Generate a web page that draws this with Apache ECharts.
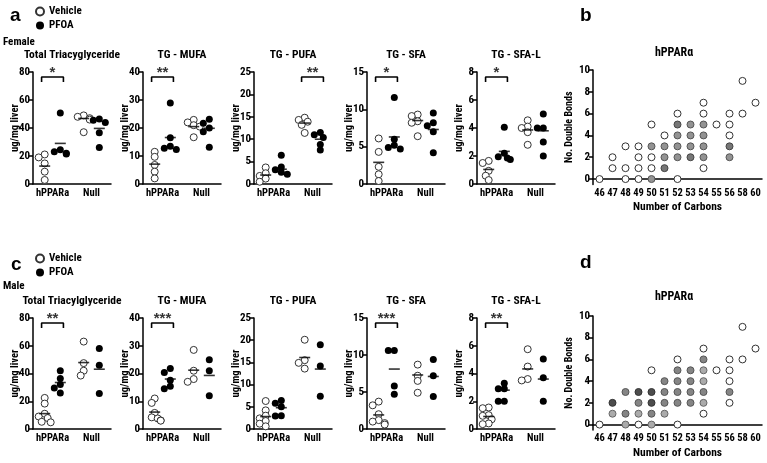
<!DOCTYPE html>
<html><head><meta charset="utf-8">
<script src="https://cdn.jsdelivr.net/npm/echarts@6/dist/echarts.min.js"></script>
<style>html,body{margin:0;padding:0;background:#fff}#c{width:767px;height:463px}</style>
</head><body><div id="c"></div>
<script>
// ---------- categories / ticks ----------
const groups = ['hPPARa', 'Null'];
const femaleTitles = ['Total Triacyglyceride', 'TG - MUFA', 'TG - PUFA', 'TG - SFA', 'TG - SFA-L'];
const maleTitles = ['Total Triacylglyceride', 'TG - MUFA', 'TG - PUFA', 'TG - SFA', 'TG - SFA-L'];
const yMaxes = [80, 40, 25, 15, 8];
const yIntervals = [20, 10, 5, 5, 2];
const carbons = ['46', '47', '48', '49', '50', '51', '52', '53', '54', '55', '56', '58', '60'];
const bondTicks = [0, 2, 4, 6, 8, 10];

// ---------- Female values: [hPPARa, Null] ----------
const fTotalVehicle = [[21.1, 19.0, 14.7, 8.8, 2.9], [49, 48, 47, 46, 37]];
const fTotalPFOA = [[50.8, 24.5, 23, 22, 21.5], [46.5, 45.5, 44, 36.6, 26.1]];
const fTotalVehicleMean = [12.8, 46.8];
const fTotalPFOAMean = [29, 39.7];

const fMufaVehicle = [[11.5, 9.7, 6.8, 4.4, 2.0], [22.9, 22.0, 21.0, 20.5, 16.7]];
const fMufaPFOA = [[28.9, 16.5, 13.5, 12.8, 12.3], [23.1, 21.7, 20.0, 18.7, 13.1]];
const fMufaVehicleMean = [7.1, 20.5];
const fMufaPFOAMean = [16.6, 19.9];

const fPufaVehicle = [[3.7, 2.4, 1.8, 1.2, 0.5], [14.8, 14.3, 13.9, 13.2, 11.4]];
const fPufaPFOA = [[6.4, 3.8, 3.2, 2.6, 2.2], [11.5, 11.0, 10.4, 8.8, 7.6]];
const fPufaVehicleMean = [2.0, 13.6];
const fPufaPFOAMean = [3.3, 10.0];

const fSfaVehicle = [[6.1, 4.3, 2.3, 1.3, 0.4], [9.3, 9.1, 8.4, 8.2, 6.4]];
const fSfaPFOA = [[11.6, 6.0, 5.2, 4.9, 4.7], [9.5, 8.2, 7.8, 7.0, 4.2]];
const fSfaVehicleMean = [2.9, 8.5];
const fSfaPFOAMean = [6.3, 7.3];

const fSfalVehicle = [[1.65, 1.5, 0.94, 0.59, 0.28], [4.55, 4.1, 4.0, 3.7, 2.8]];
const fSfalPFOA = [[4.05, 2.2, 1.95, 1.85, 1.75], [5.0, 4.0, 4.0, 3.0, 2.0]];
const fSfalVehicleMean = [1.04, 3.86];
const fSfalPFOAMean = [2.33, 3.8];

const femaleStars = ['*', '**', '**', '*', '*'];
const femaleStarGroup = [0, 0, 1, 0, 0];

// ---------- Male values: [hPPARa, Null] ----------
const mTotalVehicle = [[22.4, 18.3, 11.0, 9.0, 7.9, 5.2, 4.8], [63, 47.5, 42, 38.5]];
const mTotalPFOA = [[42, 36.4, 32, 29.5, 26], [58, 46, 25.6]];
const mTotalVehicleMean = [11.1, 47.9];
const mTotalPFOAMean = [33.5, 43.1];

const mMufaVehicle = [[11.0, 9.4, 5.8, 4.2, 3.8, 3.1, 3.0], [28.5, 21, 18, 17]];
const mMufaPFOA = [[21.8, 20.4, 17.6, 15.4, 14.5], [25, 21, 12]];
const mMufaVehicleMean = [6.1, 21.2];
const mMufaPFOAMean = [18, 19.3];

const mPufaVehicle = [[6.3, 4.2, 3.0, 2.4, 1.8, 1.2, 0.6], [20.1, 15.5, 14.9, 13.6]];
const mPufaPFOA = [[6.4, 5.8, 5.0, 3.0, 2.9], [19, 14.2, 7.4]];
const mPufaVehicleMean = [2.8, 16.1];
const mPufaPFOAMean = [4.8, 13.5];

const mSfaVehicle = [[3.7, 3.2, 2.0, 1.2, 1.0, 0.8, 0.6], [8.7, 7.2, 6.5, 4.9]];
const mSfaPFOA = [[10.6, 10.6, 5.8, 4.7], [9.4, 7.2, 4.4]];
const mSfaVehicleMean = [1.9, 7.3];
const mSfaPFOAMean = [8.1, 7.1];

const mSfalVehicle = [[1.55, 1.5, 1.0, 0.95, 0.7, 0.4, 0.35], [5.75, 4.5, 3.6, 3.5]];
const mSfalPFOA = [[3.3, 2.9, 2.9, 2.0, 2.0], [5.05, 3.7, 2.0]];
const mSfalVehicleMean = [0.9, 4.33];
const mSfalPFOAMean = [2.8, 3.6];

const maleStars = ['**', '***', '', '***', '**'];
const maleStarGroup = [0, 0, 0, 0, 0];

// ---------- hPPARα lipid species maps: [carbons, double bonds] ----------
const bOpen = [[46,0],[47,1],[47,2],[48,0],[48,1],[48,3],[49,0],[49,1],[49,2],[49,3],[50,1],[50,2],[50,5],[51,4],[52,0],[52,6],[54,1],[54,6],[54,7],[55,5],[56,4],[56,5],[56,6],[58,6],[58,9],[60,7]];
const bGrey = [[50,0],[50,3],[51,2],[51,3],[52,2],[52,3],[52,4],[53,3],[53,4],[53,5],[54,2],[54,3],[54,4],[54,5],[56,2]];
const bDarkGrey = [[51,1],[52,5],[53,2],[56,3]];

const dOpen = [[46,0],[49,0],[50,5],[52,0],[52,6],[54,1],[54,7],[55,5],[56,2],[56,4],[56,5],[56,6],[58,6],[58,9],[60,7]];
const dLight = [[47,1],[48,0],[49,1],[50,0],[51,1],[54,2],[54,4],[54,5]];
const dMedium = [[48,1],[48,3],[49,2],[50,1],[51,2],[51,3],[51,4],[52,2],[52,3],[52,4],[52,5],[53,2],[53,3],[53,4],[53,5],[54,3],[54,6],[56,3]];
const dDark = [[47,2],[49,3],[50,2],[50,3]];

// ---------- layout ----------
const FONT = '"Roboto Condensed", "Liberation Sans", Arial, sans-serif';
const gridLefts = [33, 143, 254, 367, 477];
const GW = 78;
const rows = [
  { top: 72, h: 112, titles: femaleTitles, stars: femaleStars, starGroup: femaleStarGroup,
    panels: [
      [fTotalVehicle, fTotalPFOA, fTotalVehicleMean, fTotalPFOAMean],
      [fMufaVehicle, fMufaPFOA, fMufaVehicleMean, fMufaPFOAMean],
      [fPufaVehicle, fPufaPFOA, fPufaVehicleMean, fPufaPFOAMean],
      [fSfaVehicle, fSfaPFOA, fSfaVehicleMean, fSfaPFOAMean],
      [fSfalVehicle, fSfalPFOA, fSfalVehicleMean, fSfalPFOAMean]] },
  { top: 318, h: 111, titles: maleTitles, stars: maleStars, starGroup: maleStarGroup,
    panels: [
      [mTotalVehicle, mTotalPFOA, mTotalVehicleMean, mTotalPFOAMean],
      [mMufaVehicle, mMufaPFOA, mMufaVehicleMean, mMufaPFOAMean],
      [mPufaVehicle, mPufaPFOA, mPufaVehicleMean, mPufaPFOAMean],
      [mSfaVehicle, mSfaPFOA, mSfaVehicleMean, mSfaPFOAMean],
      [mSfalVehicle, mSfalPFOA, mSfalVehicleMean, mSfalPFOAMean]] }
];

const OFF = 0.2;    // treatment offset within group (value-axis units)
const BR = 0.28;    // bracket half width

// simple beeswarm: spread overlapping points horizontally
function swarm(values, center, pyu, pxu) {
  const placed = [], out = [];
  values.forEach(v => {
    const py = v * pyu;
    const cands = [0, -3, 3, -6, 6];
    let best = cands[cands.length - 1];
    for (const c of cands) {
      if (placed.every(p => Math.hypot(p[0] - c, p[1] - py) >= 5)) { best = c; break; }
    }
    placed.push([best, py]);
    out.push([center + best / pxu, v]);
  });
  return out;
}

const grids = [], xAxes = [], yAxes = [], series = [], graphics = [];
const axisLineStyle = { show: true, lineStyle: { color: '#000', width: 1.5 } };
const labelStyle = { color: '#000', fontWeight: 'bold', fontSize: 11, fontFamily: FONT };

rows.forEach((row, ri) => {
  row.panels.forEach((p, k) => {
    const gi = grids.length;
    grids.push({ left: gridLefts[k], top: row.top, width: GW, height: row.h });
    xAxes.push({ type: 'category', gridIndex: gi, data: groups, boundaryGap: true,
      axisLine: axisLineStyle, axisTick: { alignWithLabel: true, length: 4, lineStyle: { width: 1.5, color: '#000' } },
      axisLabel: Object.assign({ margin: 4, interval: 0 }, labelStyle, { fontSize: 10.5 }), splitLine: { show: false } });
    const xVal = xAxes.length;
    xAxes.push({ type: 'value', gridIndex: gi, min: 0, max: 2, show: false });
    const yMax = yMaxes[k];
    yAxes.push({ type: 'value', gridIndex: gi, min: 0, max: yMax, interval: yIntervals[k],
      name: 'ug/mg liver', nameLocation: 'middle', nameGap: 12, nameMoveOverlap: false,
      nameTextStyle: { color: '#000', fontWeight: 'bold', fontSize: 10.5, fontFamily: FONT },
      axisLine: axisLineStyle, axisTick: { show: true, length: 4, lineStyle: { width: 1.5, color: '#000' } },
      axisLabel: Object.assign({ margin: 3 }, labelStyle), splitLine: { show: false } });
    const pyu = row.h / yMax, pxu = GW / 2;
    const [veh, pfoa, vm, pm] = p;
    const vehData = [], pfoaData = [];
    veh.forEach((g, j) => vehData.push(...swarm(g, j + 0.5 - OFF, pyu, pxu)));
    pfoa.forEach((g, j) => pfoaData.push(...swarm(g, j + 0.5 + OFF, pyu, pxu)));
    series.push({ name: 'Vehicle', type: 'scatter', xAxisIndex: xVal, yAxisIndex: gi, data: vehData,
      symbol: 'circle', symbolSize: 7, clip: false,
      itemStyle: { color: '#fff', borderColor: '#333', borderWidth: 1, opacity: 1 } });
    series.push({ name: 'PFOA', type: 'scatter', xAxisIndex: xVal, yAxisIndex: gi, data: pfoaData,
      symbol: 'circle', symbolSize: 7, clip: false, itemStyle: { color: '#000', opacity: 1 } });
    const means = [];
    [0, 1].forEach(j => { means.push([j + 0.5 - OFF, vm[j]]); means.push([j + 0.5 + OFF, pm[j]]); });
    series.push({ type: 'scatter', xAxisIndex: xVal, yAxisIndex: gi, data: means, symbol: 'rect',
      symbolSize: [11, 1.6], z: 5, silent: true, itemStyle: { color: '#000' } });
    const st = row.stars[k];
    if (st) {
      const c = row.starGroup[k] + 0.5;
      const lo = yMax * 0.91, hi = yMax * 0.955;
      series.push({ type: 'line', xAxisIndex: xVal, yAxisIndex: gi, data: [[c - BR, lo], [c - BR, hi], [c + BR, hi], [c + BR, lo]],
        symbol: 'none', clip: false, silent: true, lineStyle: { color: '#000', width: 1.6 } });
      series.push({ type: 'scatter', xAxisIndex: xVal, yAxisIndex: gi, data: [[c, hi]], symbolSize: 0, clip: false, silent: true,
        label: { show: true, position: 'top', distance: -3, formatter: st, color: '#000', fontWeight: 'bold', fontSize: 15, fontFamily: '"Liberation Sans", Arial, sans-serif' } });
    }
    graphics.push({ type: 'text', x: gridLefts[k] + GW / 2, y: row.top - 17,
      style: { text: row.titles[k], fill: '#000', font: 'bold 11.5px ' + FONT, align: 'center', verticalAlign: 'middle' } });
  });
});

// ---------- species maps b, d ----------
const mapRows = [
  { top: 70, h: 114.5, sets: [[bOpen, '#fff', '#333'], [bGrey, '#939393', '#555'], [bDarkGrey, '#777', '#444']] },
  { top: 316, h: 114, sets: [[dOpen, '#fff', '#333'], [dLight, '#ababab', '#666'], [dMedium, '#858585', '#555'], [dDark, '#4d4d4d', '#333']] }
];
mapRows.forEach(mr => {
  const gi = grids.length;
  grids.push({ left: 593, top: mr.top, width: 169, height: mr.h });
  const xi = xAxes.length;
  xAxes.push({ type: 'category', gridIndex: gi, data: carbons, boundaryGap: true,
    name: 'Number of Carbons', nameLocation: 'middle', nameGap: 17, nameMoveOverlap: false,
    nameTextStyle: { color: '#000', fontWeight: 'bold', fontSize: 11.5, fontFamily: FONT },
    axisLine: axisLineStyle, axisTick: { alignWithLabel: true, length: 4, lineStyle: { width: 1.5, color: '#000' } },
    axisLabel: Object.assign({}, labelStyle, { margin: 3, interval: 0, fontSize: 10.5 }), splitLine: { show: false } });
  yAxes.push({ type: 'value', gridIndex: gi, min: -0.5, max: 10,
    name: 'No. Double Bonds', nameLocation: 'middle', nameGap: 19, nameMoveOverlap: false,
    nameTextStyle: { color: '#000', fontWeight: 'bold', fontSize: 10, fontFamily: FONT },
    axisLine: axisLineStyle,
    axisTick: { show: true, length: 4, customValues: bondTicks, lineStyle: { width: 1.5, color: '#000' } },
    axisLabel: Object.assign({ margin: 3, customValues: bondTicks }, labelStyle), splitLine: { show: false } });
  mr.sets.forEach(([pts, fill, stroke]) => {
    series.push({ type: 'scatter', xAxisIndex: xi, yAxisIndex: gi, silent: true,
      data: pts.map(q => [String(q[0]), q[1]]), symbol: 'circle', symbolSize: 7, clip: false,
      itemStyle: { color: fill, borderColor: stroke, borderWidth: 1, opacity: 1 } });
  });
});

// ---------- texts ----------
const bigFont = 'bold 19px "Liberation Sans", Arial, sans-serif';
const smallFont = 'bold 11px ' + FONT;
graphics.push(
  { type: 'text', x: 10, y: 16, style: { text: 'a', font: bigFont, fill: '#000', verticalAlign: 'middle' } },
  { type: 'text', x: 3, y: 42, style: { text: 'Female', font: smallFont, fill: '#000', verticalAlign: 'middle' } },
  { type: 'text', x: 11, y: 265, style: { text: 'c', font: bigFont, fill: '#000', verticalAlign: 'middle' } },
  { type: 'text', x: 3, y: 286, style: { text: 'Male', font: smallFont, fill: '#000', verticalAlign: 'middle' } },
  { type: 'text', x: 580, y: 16, style: { text: 'b', font: bigFont, fill: '#000', verticalAlign: 'middle' } },
  { type: 'text', x: 580, y: 263, style: { text: 'd', font: bigFont, fill: '#000', verticalAlign: 'middle' } },
  { type: 'text', x: 674, y: 53, style: { text: 'hPPARα', font: 'bold 12px ' + FONT, fill: '#000', align: 'center', verticalAlign: 'middle' } },
  { type: 'text', x: 674, y: 297, style: { text: 'hPPARα', font: 'bold 12px ' + FONT, fill: '#000', align: 'center', verticalAlign: 'middle' } }
);

const legendCommon = { data: ['Vehicle', 'PFOA'], orient: 'vertical', left: 30, itemWidth: 8, itemHeight: 8, itemGap: 3,
  selectedMode: false, textStyle: { color: '#000', fontWeight: 'bold', fontSize: 11, fontFamily: FONT } };

const chart = echarts.init(document.getElementById('c'), null, { renderer: 'canvas' });
chart.setOption({
  animation: false,
  backgroundColor: '#fff',
  textStyle: { fontFamily: FONT },
  legend: [Object.assign({ top: 1 }, legendCommon), Object.assign({ top: 248 }, legendCommon)],
  grid: grids, xAxis: xAxes, yAxis: yAxes, series: series, graphic: graphics
});
</script></body></html>
